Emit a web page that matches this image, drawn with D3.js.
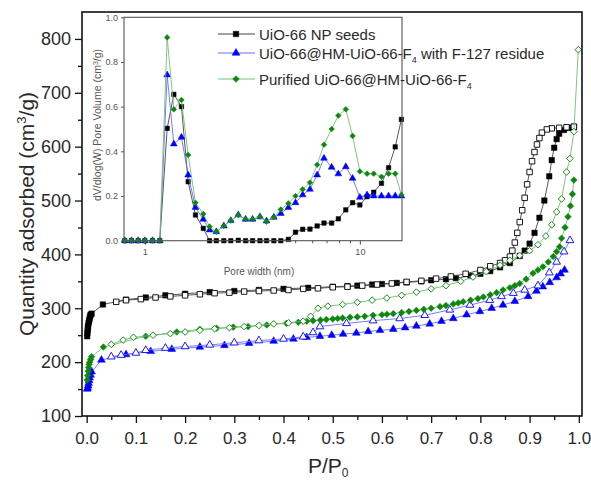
<!DOCTYPE html>
<html><head><meta charset="utf-8">
<script src="https://cdn.jsdelivr.net/npm/d3@7"></script>
<style>body{margin:0;background:#fff;} svg{display:block;font-family:"Liberation Sans",Arial,sans-serif;}</style>
</head><body><svg id="c" width="591" height="483"></svg>
<script>
// ---------- main isotherm data ----------
const seedsAdsP = [0.001,0.0015,0.002,0.0025,0.003,0.004,0.005,0.006,0.007,0.008,0.01,0.033,0.08,0.12,0.16,0.20,0.25,0.30,0.35,0.40,0.45,0.50,0.53,0.55,0.58,0.60,0.63,0.65,0.68,0.70,0.73,0.75,0.78,0.80,0.82,0.84,0.86,0.88,0.89,0.90,0.91,0.92,0.93,0.94,0.945,0.95,0.955,0.96,0.97,0.98,0.99];
const seedsAdsV = [248,254,259,264,268,273,277,281,285,288,290,307,316,320,324,327,330,332,334,336,338,340,341,342,344,345,347,348,350,352,354,356,360,364,369,376,384,397,407,420,440,468,500,545,575,598,614,624,631,635,637];
const seedsDesP = [0.99,0.975,0.96,0.945,0.935,0.925,0.92,0.915,0.91,0.905,0.90,0.895,0.89,0.885,0.88,0.875,0.87,0.865,0.86,0.85,0.84,0.82,0.80,0.77,0.74,0.71,0.68,0.65,0.62,0.59,0.56,0.53,0.50,0.47,0.44,0.41,0.38,0.35,0.32,0.29,0.26,0.23,0.20,0.17,0.14,0.11,0.08,0.06];
const seedsDesV = [637,636,635,634,632,626,616,604,590,573,553,530,505,482,460,440,422,407,396,389,384,378,371,364,359,355,351,349,346,344,342,340,339,337,336,334,333,332,331,329,328,326,324,322,320,317,315,312];

const f127AdsP = [0.001,0.002,0.003,0.004,0.005,0.006,0.008,0.01,0.03,0.08,0.13,0.173,0.23,0.28,0.33,0.38,0.42,0.447,0.474,0.498,0.521,0.548,0.572,0.596,0.623,0.647,0.67,0.697,0.721,0.745,0.772,0.799,0.823,0.846,0.87,0.897,0.914,0.927,0.941,0.955,0.963,0.971];
const f127AdsV = [150,152,156,161,166,171,176,182,204,214,220,224,228,231,235,239,243,246,248,250,252,254,257,259,261,264,267,271,276,281,288,294,300,306,313,322,332,340,348,357,364,371];
const f127DesP = [0.982,0.97,0.955,0.94,0.917,0.89,0.867,0.843,0.819,0.779,0.738,0.687,0.636,0.582,0.528,0.474,0.46,0.44,0.40,0.35,0.30,0.25,0.20,0.16,0.12,0.10,0.07,0.05];
const f127DesV = [426,405,386,366,342,334,328,322,315,306,297,287,281,277,272,266,255,247,243,240,236,232,229,226,222,217,213,210];

const purAdsP = [0.001,0.002,0.003,0.004,0.005,0.006,0.008,0.01,0.034,0.12,0.183,0.23,0.264,0.298,0.328,0.366,0.406,0.43,0.447,0.46,0.475,0.487,0.50,0.51,0.52,0.535,0.55,0.565,0.582,0.60,0.61,0.623,0.64,0.655,0.67,0.685,0.70,0.718,0.73,0.745,0.755,0.765,0.78,0.795,0.806,0.82,0.833,0.846,0.86,0.87,0.88,0.893,0.907,0.917,0.927,0.938,0.948,0.955,0.961,0.965,0.972,0.978,0.983,0.987,0.99];
const purAdsV = [167,175,183,190,196,200,205,210,228,248,256,261,263,265,266,269,272,274,276,277,278,279,280,281,282,283,284,285,287,288,289,290,292,294,296,298,300,303,305,308,310,312,315,318,321,325,329,334,338,342,346,354,365,371,377,386,396,405,414,430,450,470,490,512,538];
const purDesP = [0.999,0.99,0.982,0.975,0.965,0.955,0.945,0.933,0.917,0.90,0.88,0.86,0.84,0.812,0.785,0.76,0.73,0.70,0.67,0.64,0.61,0.58,0.55,0.52,0.49,0.47,0.455,0.44,0.41,0.38,0.35,0.32,0.29,0.26,0.23,0.20,0.17,0.135,0.095,0.074,0.05];
const purDesV = [780,628,578,553,503,479,455,434,418,407,398,389,380,368,358,350,342,336,330,324,319,315,311,307,304,300,285,276,273,271,268,266,264,262,259,256,253,250,246,241,233];

// ---------- inset pore size distribution ----------
const poreW = [0.807,0.867,0.931,1.0,1.086,1.174,1.27,1.364,1.48,1.59,1.72,1.87,2.0,2.15,2.33,2.51,2.72,2.94,3.17,3.43,3.68,3.98,4.29,4.65,5.02,5.42,5.86,6.33,6.81,7.39,7.94,8.6,9.25,10.0,10.8,11.6,12.6,13.6,14.6,15.6];
const psdSeeds = [0,0,0,0,0,0,0.503,0.655,0.6,0.264,0.115,0.055,0,0,0,0,0.002,0,0,0,0,0,0,0.006,0.038,0.051,0.052,0.066,0.079,0.079,0.098,0.138,0.17,0.16,0.197,0.217,0.257,0.327,0.42,0.543];
const psdF127 = [0,0,0,0,0,0,0.742,0.433,0.463,0.294,0.149,0.096,0.048,0.04,0.066,0.09,0.115,0.096,0.096,0.107,0.088,0.105,0.122,0.149,0.17,0.205,0.23,0.294,0.369,0.329,0.299,0.331,0.279,0.194,0.205,0.2,0.2,0.2,0.2,0.2];
const psdPur = [0,0,0,0,0,0,0.91,0.588,0.63,0.384,0.17,0.12,0.063,0.04,0.066,0.09,0.115,0.096,0.096,0.107,0.085,0.105,0.14,0.167,0.2,0.23,0.26,0.34,0.43,0.5,0.56,0.588,0.469,0.31,0.30,0.30,0.286,0.30,0.30,0.205];

const xTicks = [0,0.1,0.2,0.3,0.4,0.5,0.6,0.7,0.8,0.9,1.0];
const yTicks = [100,200,300,400,500,600,700,800];
const inYTicks = [0,0.2,0.4,0.6,0.8,1.0];
const inXTicks = [1,10];
const seriesNames = ["UiO-66 NP seeds","UiO-66@HM-UiO-66-F","Purified UiO-66@HM-UiO-66-F"];

const C = {
  black: {fill:"#000", line:"#444"},
  blue:  {fill:"#0000ff", line:"#6b6bff"},
  green: {fill:"#0f870f", line:"#72c172"}
};

const svg = d3.select("#c");
const x = d3.scaleLinear().domain([-0.0095,1.0065]).range([82,582]);
const y = d3.scaleLinear().domain([100,850]).range([416,12]);

function sym(type, size, rot){
  return {path: d3.symbol().type(type).size(size)(), rot: rot||0};
}
const SQ = sym(d3.symbolSquare, 30);
const TRI = sym(d3.symbolTriangle, 26);
const DIA = sym(d3.symbolSquare, 22, 45);
const SQs = sym(d3.symbolSquare, 20);
const TRIs = sym(d3.symbolTriangle, 20);
const DIAs = sym(d3.symbolSquare, 16, 45);

function drawSeries(g, xs, ys, P, V, col, s, open){
  const pts = P.map((p,i)=>[p,V[i]]);
  g.append("path").datum(pts)
    .attr("d", d3.line().x(d=>xs(d[0])).y(d=>ys(d[1])))
    .attr("fill","none").attr("stroke",col.line).attr("stroke-width",0.9);
  g.selectAll(null).data(pts).enter().append("path")
    .attr("d", s.path)
    .attr("transform", d=>`translate(${xs(d[0])},${ys(d[1])}) rotate(${s.rot})`)
    .attr("fill", open ? "#fff" : col.fill)
    .attr("stroke", col.fill).attr("stroke-width", open?0.9:0.5);
}

// main axes
const gx = svg.append("g").attr("transform","translate(0,416)");
gx.call(d3.axisBottom(x).tickValues(xTicks).tickFormat(d3.format(".1f")).tickSize(7).tickPadding(9).tickSizeOuter(0));
gx.append("g").call(d3.axisBottom(x).tickValues(d3.range(0.05,1.0,0.1)).tickFormat("").tickSize(4).tickSizeOuter(0));
const gy = svg.append("g").attr("transform","translate(82,0)");
gy.call(d3.axisLeft(y).tickValues(yTicks).tickSize(7).tickPadding(4).tickSizeOuter(0));
gy.append("g").call(d3.axisLeft(y).tickValues(d3.range(150,850,100)).tickFormat("").tickSize(4).tickSizeOuter(0));
svg.selectAll(".domain").remove();
svg.selectAll(".tick line").attr("stroke","#111").attr("stroke-width",1.3);
gx.selectAll("text").attr("font-size",17).attr("fill","#2a2a2a").attr("font-family","Liberation Sans, Arial");
gy.selectAll("text").attr("font-size",18).attr("fill","#2a2a2a").attr("font-family","Liberation Sans, Arial");

// main data
const gm = svg.append("g");
drawSeries(gm, x, y, seedsAdsP, seedsAdsV, C.black, SQ, false);
drawSeries(gm, x, y, seedsDesP, seedsDesV, C.black, SQ, true);
drawSeries(gm, x, y, f127AdsP, f127AdsV, C.blue, TRI, false);
drawSeries(gm, x, y, f127DesP, f127DesV, C.blue, TRI, true);
drawSeries(gm, x, y, purAdsP, purAdsV, C.green, DIA, false);
drawSeries(gm, x, y, purDesP, purDesV, C.green, DIA, true);

// main frame
svg.append("rect").attr("x",x.range()[0]).attr("y",y.range()[1])
  .attr("width",x.range()[1]-x.range()[0]).attr("height",y.range()[0]-y.range()[1])
  .attr("fill","none").attr("stroke","#111").attr("stroke-width",1.6);

// axis titles
const yl = svg.append("text").attr("transform","translate(34,214) rotate(-90)")
  .attr("text-anchor","middle").attr("font-size",21).attr("fill","#2a2a2a");
yl.append("tspan").text("Quantity adsorbed (cm");
yl.append("tspan").attr("dy",-8).attr("font-size",13).text("3");
yl.append("tspan").attr("dy",8).text("/g)");
const xl = svg.append("text").attr("x",308).attr("y",473).attr("font-size",21).attr("fill","#2a2a2a");
xl.append("tspan").text("P/P");
xl.append("tspan").attr("dy",4).attr("font-size",12).text("0");

// ---------- inset ----------
const ix = d3.scaleLog().domain([0.8,15.7]).range([124,402]);
const iy = d3.scaleLinear().domain([0,1]).range([240.7,17.3]);
const gi = svg.append("g");
gi.append("rect").attr("x",124).attr("y",17.3).attr("width",278).attr("height",223.4).attr("fill","#fff");
const gix = gi.append("g").attr("transform","translate(0,240.7)");
gix.call(d3.axisBottom(ix).tickValues(inXTicks).tickFormat(d3.format("d")).tickSize(4).tickPadding(4).tickSizeOuter(0));
gix.append("g").call(d3.axisBottom(ix).tickValues([0.8,0.9,2,3,4,5,6,7,8,9]).tickFormat("").tickSize(2.5).tickSizeOuter(0));
const giy = gi.append("g").attr("transform","translate(124,0)");
giy.call(d3.axisLeft(iy).tickValues(inYTicks).tickFormat(d3.format(".1f")).tickSize(3).tickPadding(3).tickSizeOuter(0));
gi.selectAll(".domain").remove();
gi.selectAll(".tick line").attr("stroke","#555").attr("stroke-width",1);
gi.selectAll(".tick text").attr("font-size",9).attr("fill","#555");

const gid = gi.append("g");
drawSeries(gid, ix, iy, poreW, psdSeeds, C.black, SQs, false);
drawSeries(gid, ix, iy, poreW, psdF127, C.blue, TRIs, false);
drawSeries(gid, ix, iy, poreW, psdPur, C.green, DIAs, false);

gi.append("rect").attr("x",124).attr("y",17.3).attr("width",278).attr("height",223.4)
  .attr("fill","none").attr("stroke","#555").attr("stroke-width",1.1);

const iyl = gi.append("text").attr("transform","translate(101,125) rotate(-90)")
  .attr("text-anchor","middle").attr("font-size",10.5).attr("fill","#555");
iyl.append("tspan").text("dV/dlog(W) Pore Volume (cm");
iyl.append("tspan").attr("dy",-3).attr("font-size",7).text("3");
iyl.append("tspan").attr("dy",3).text("/g)");
gi.append("text").attr("x",259).attr("y",275).attr("text-anchor","middle")
  .attr("font-size",10).attr("fill","#555").text("Pore width (nm)");

// legend
const legRows = [34,53,79];
const legCols = [C.black, C.blue, C.green];
const legSyms = [SQ, TRI, DIA];
const lg = svg.append("g");
legRows.forEach((ry,i)=>{
  lg.append("line").attr("x1",218).attr("x2",255).attr("y1",ry).attr("y2",ry)
    .attr("stroke",legCols[i].line).attr("stroke-width",1);
  lg.append("path").attr("d",legSyms[i].path)
    .attr("transform",`translate(236,${ry}) rotate(${legSyms[i].rot})`)
    .attr("fill",legCols[i].fill).attr("stroke",legCols[i].fill).attr("stroke-width",0.5);
  const t = lg.append("text").attr("x",259).attr("y",ry+5.5).attr("font-size",15).attr("fill","#2a2a2a");
  t.append("tspan").text(seriesNames[i]);
  if(i>0){
    t.append("tspan").attr("dy",4).attr("font-size",9).text("4");
    if(i===1) t.append("tspan").attr("dy",-4).text(" with F-127 residue");
  }
});
</script></body></html>
